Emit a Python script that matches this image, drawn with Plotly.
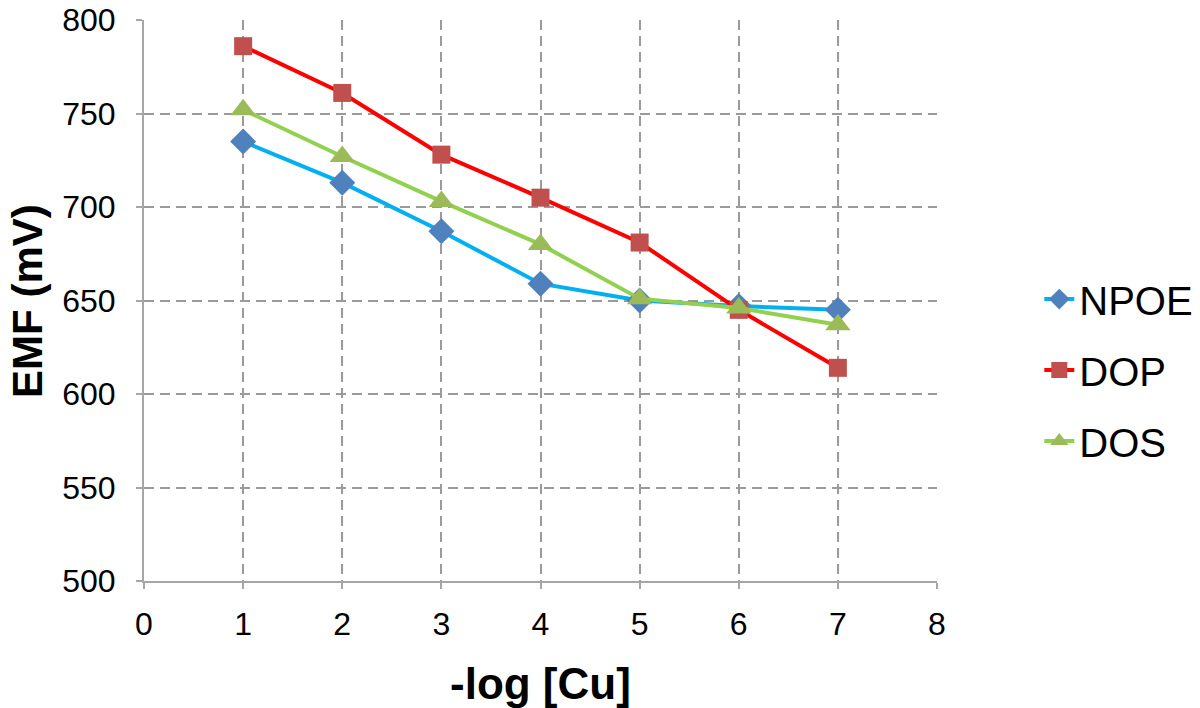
import plotly.graph_objects as go

# ── data ──────────────────────────────────────────────────────────────────────
x_vals = [1, 2, 3, 4, 5, 6, 7]
npoe = [735, 713, 687, 659, 650, 647, 645]
dop = [786, 761, 728, 705, 681, 645, 614]
dos = [752, 727, 703, 680, 651, 646, 637]

# ── colours ───────────────────────────────────────────────────────────────────
_GRID = "#9a9a9a"
_AXIS = "#a6a6a6"
_FONT = "Liberation Sans, Arial, sans-serif"

series = [
    ("NPOE", npoe, "#00b0f0", "#4f81bd", "diamond", 20),
    ("DOP", dop, "#ff0000", "#c0504d", "square", 18),
    ("DOS", dos, "#92d050", "#9bbb59", "triangle-up", 22),
]

fig = go.Figure()
for name, ys, lc, mc, sym, sz in series:
    fig.add_trace(go.Scatter(
        x=x_vals, y=ys, name=name, legendgroup=name,
        mode="lines+markers",
        line=dict(color=lc, width=4),
        marker=dict(symbol=sym, size=sz, color=mc),
    ))

fig.update_layout(
    width=1200, height=708,
    margin=dict(l=144, r=263, t=20, b=127, autoexpand=False),
    paper_bgcolor="white", plot_bgcolor="white",
    font=dict(family=_FONT, size=32, color="black"),
    showlegend=True,
    legend=dict(
        x=1.129, y=0.376, xanchor="left", yanchor="middle",
        font=dict(size=40), tracegroupgap=16,
        bgcolor="rgba(0,0,0,0)",
    ),
    annotations=[
        dict(text="<b>EMF (mV)</b>", textangle=-90,
             xref="paper", yref="paper", x=-0.147, y=0.5,
             xanchor="center", yanchor="middle",
             showarrow=False, font=dict(size=42)),
        dict(text="<b>-log [Cu]</b>",
             xref="paper", yref="paper", x=0.5, y=-0.182,
             xanchor="center", yanchor="middle",
             showarrow=False, font=dict(size=44)),
    ],
)

fig.update_xaxes(
    range=[0, 8], dtick=1, tick0=0,
    showgrid=True, gridcolor=_GRID, griddash="10px,6px", gridwidth=2,
    showline=True, linecolor=_AXIS, linewidth=2,
    ticks="outside", ticklen=6, tickcolor=_AXIS, tickwidth=2,
    ticklabelstandoff=8, ticklabeloverflow="allow",
    zeroline=False, automargin=False,
)
fig.update_yaxes(
    range=[500, 800], dtick=50,
    showgrid=True, gridcolor=_GRID, griddash="10px,6px", gridwidth=2,
    showline=True, linecolor=_AXIS, linewidth=2,
    ticks="outside", ticklen=6, tickcolor=_AXIS, tickwidth=2,
    ticklabelstandoff=14, ticklabeloverflow="allow",
    zeroline=False, automargin=False,
)

# drop the browser's default body margin so the figure sits at the page corner
fig.write_html(
    "out.html",
    config={"displayModeBar": False},
    post_script="document.body.style.margin='0';",
)
